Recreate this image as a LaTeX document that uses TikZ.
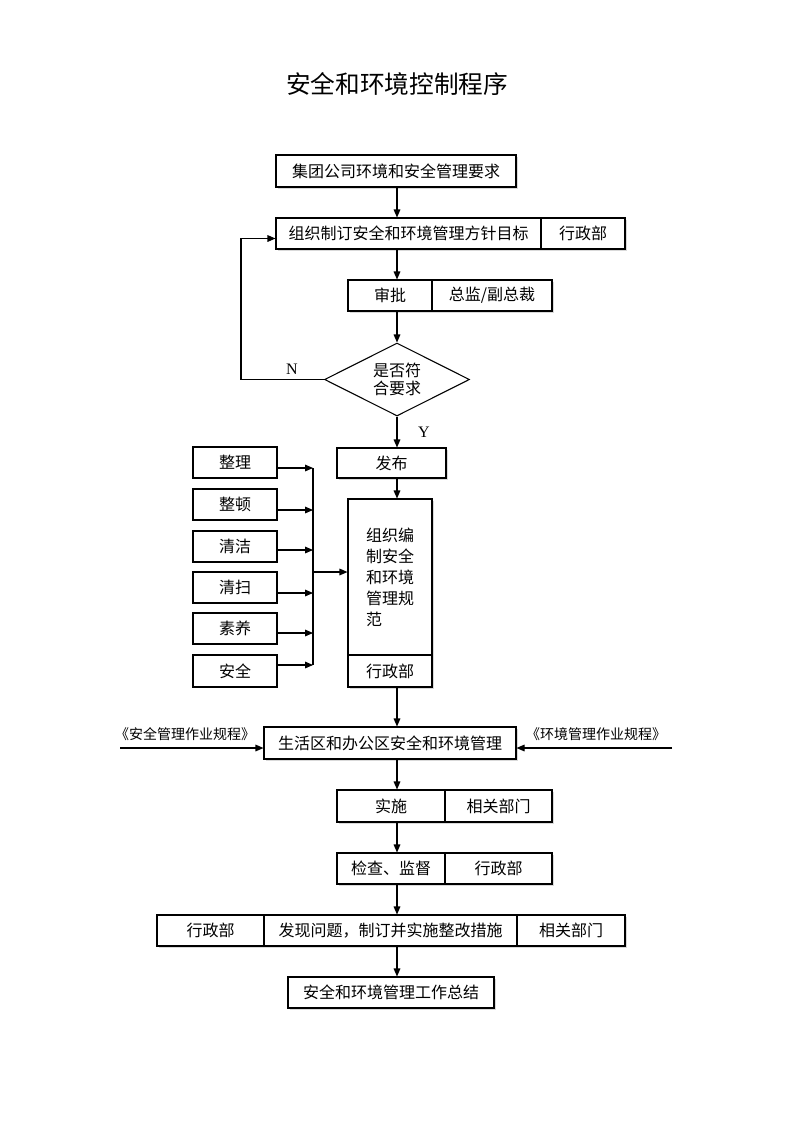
\documentclass[tikz,border=0pt]{standalone}
\usepackage{fontspec}
\setmainfont{Liberation Serif}
\newfontfamily\cjk{Noto Sans CJK SC}
\usetikzlibrary{arrows.meta,shapes.geometric,shadows,calc}
\begin{document}
\begin{tikzpicture}[x=0.75pt,y=-0.75pt,
  line width=0.8pt,
  cell/.style={draw, fill=white, inner sep=0pt, font=\cjk\fontsize{12}{14}\selectfont},
  span/.style n args={4}{minimum width={(#3-#1)*0.75pt}, minimum height={(#4-#2)*0.75pt},
     at={({(#1+#3)/2},{(#2+#4)/2})}},
  sh/.style={drop shadow={shadow xshift=1.3pt,shadow yshift=-1.3pt,opacity=0.3}},
  arr/.style={-{Triangle[length=6pt,width=5pt]}},
  lbl/.style={font=\cjk\fontsize{10.5}{12}\selectfont, inner sep=0pt},
  yn/.style={font=\fontsize{12}{14}\selectfont, inner sep=0pt}]
\useasboundingbox (0,0) rectangle (793,1122);

% title
\node[font=\cjk\fontsize{18.5}{20}\selectfont] (title) at (397,84) {安全和环境控制程序};

% axis coordinates
\coordinate (ax) at (397,0);
\coordinate (bus) at (313,0);
\coordinate (fbk) at (241,0);

% main flow boxes
\node[cell,sh,span={276}{155}{516}{187}] (b1) {集团公司环境和安全管理要求};
\node[cell,sh,span={276}{218}{541}{249}] (b2a) {组织制订安全和环境管理方针目标};
\node[cell,sh,span={541}{218}{625}{249}] (b2b) {行政部};
\node[cell,sh,span={348}{280}{432}{311}] (b3a) {审批};
\node[cell,sh,span={432}{280}{552}{311}] (b3b) {总监/副总裁};
\node[draw, fill=white, diamond, aspect=2, minimum width=108.75pt, minimum height=54.75pt,
      inner sep=0pt, align=center, font=\cjk\fontsize{12}{13}\selectfont] (dec) at (397,379.5) {是否符\\合要求};
\node[cell,sh,span={337}{448}{446}{478}] (fb) {发布};
\node[cell,sh,span={348}{499}{432}{655}, align=left, font=\cjk\fontsize{12}{15.75}\selectfont] (bt) {组织编\\制安全\\和环境\\管理规\\范};
\node[cell,sh,span={348}{655}{432}{687}] (bb) {行政部};

% left 6S boxes
\node[cell,span={193}{447}{277}{478}] (l1) {整理};
\node[cell,span={193}{489}{277}{520}] (l2) {整顿};
\node[cell,span={193}{531}{277}{562}] (l3) {清洁};
\node[cell,span={193}{572}{277}{603}] (l4) {清扫};
\node[cell,span={193}{613}{277}{644}] (l5) {素养};
\node[cell,span={193}{655}{277}{687}] (l6) {安全};

% lower boxes
\node[cell,sh,span={264}{727}{516}{759}] (life) {生活区和办公区安全和环境管理};
\node[cell,sh,span={337}{790}{445}{822}] (s1) {实施};
\node[cell,sh,span={445}{790}{552}{822}] (s2) {相关部门};
\node[cell,sh,span={337}{853}{445}{884}] (c1) {检查、监督};
\node[cell,sh,span={445}{853}{552}{884}] (c2) {行政部};
\node[cell,sh,span={157}{915}{264}{946}] (f1) {行政部};
\node[cell,sh,span={264}{915}{517}{946}] (f2) {发现问题，制订并实施整改措施};
\node[cell,sh,span={517}{915}{625}{946}] (f3) {相关部门};
\node[cell,sh,span={288}{977}{494}{1008}] (sum) {安全和环境管理工作总结};

% side labels
\node[lbl] (tl) at (185,734) {《安全管理作业规程》};
\node[lbl] (tr) at (596,734) {《环境管理作业规程》};
\coordinate (inL) at (120,748);
\coordinate (inR) at (672,748);

% N / Y
\node[yn] (nn) at (292,369) {N};
\node[yn] (yy) at (424,432) {Y};

% main connectors
\draw[arr] (b1.south -| ax) -- (b2a.north -| ax);
\draw[arr] (b2a.south -| ax) -- (b3a.north -| ax);
\draw[arr] (b3a.south -| ax) -- (dec.north);
\draw[arr] (dec.south) -- (fb.north -| ax);
\draw[arr] (fb.south -| ax) -- (bt.north -| ax);
\draw[arr] (bb.south -| ax) -- (life.north -| ax);
\draw[arr] (life.south -| ax) -- (s1.north -| ax);
\draw[arr] (s1.south -| ax) -- (c1.north -| ax);
\draw[arr] (c1.south -| ax) -- (f2.north -| ax);
\draw[arr] (f2.south -| ax) -- (sum.north -| ax);

% feedback loop
\coordinate (fin) at ($(b2a.west)+(0,5)$);
\draw[arr] (dec.west) -- (dec.west -| fbk) |- (fin);

% left bus
\coordinate (a1) at ($(l1.east)+(0,5.5)$);
\coordinate (a2) at ($(l2.east)+(0,5.5)$);
\coordinate (a3) at ($(l3.east)+(0,3.5)$);
\coordinate (a4) at ($(l4.east)+(0,5.5)$);
\coordinate (a5) at ($(l5.east)+(0,4.5)$);
\coordinate (a6) at ($(l6.east)+(0,-6)$);
\foreach \i in {1,...,6}{\draw[arr] (a\i) -- (a\i -| bus);}
\draw (a1 -| bus) -- (a6 -| bus);
\coordinate (m) at ($(bt.west)+(0,-5)$);
\draw[arr] (m -| bus) -- (m);

% side inputs
\draw[arr] (inL) -- (inL -| life.west);
\draw[arr] (inR) -- (inR -| life.east);
\end{tikzpicture}
\end{document}
